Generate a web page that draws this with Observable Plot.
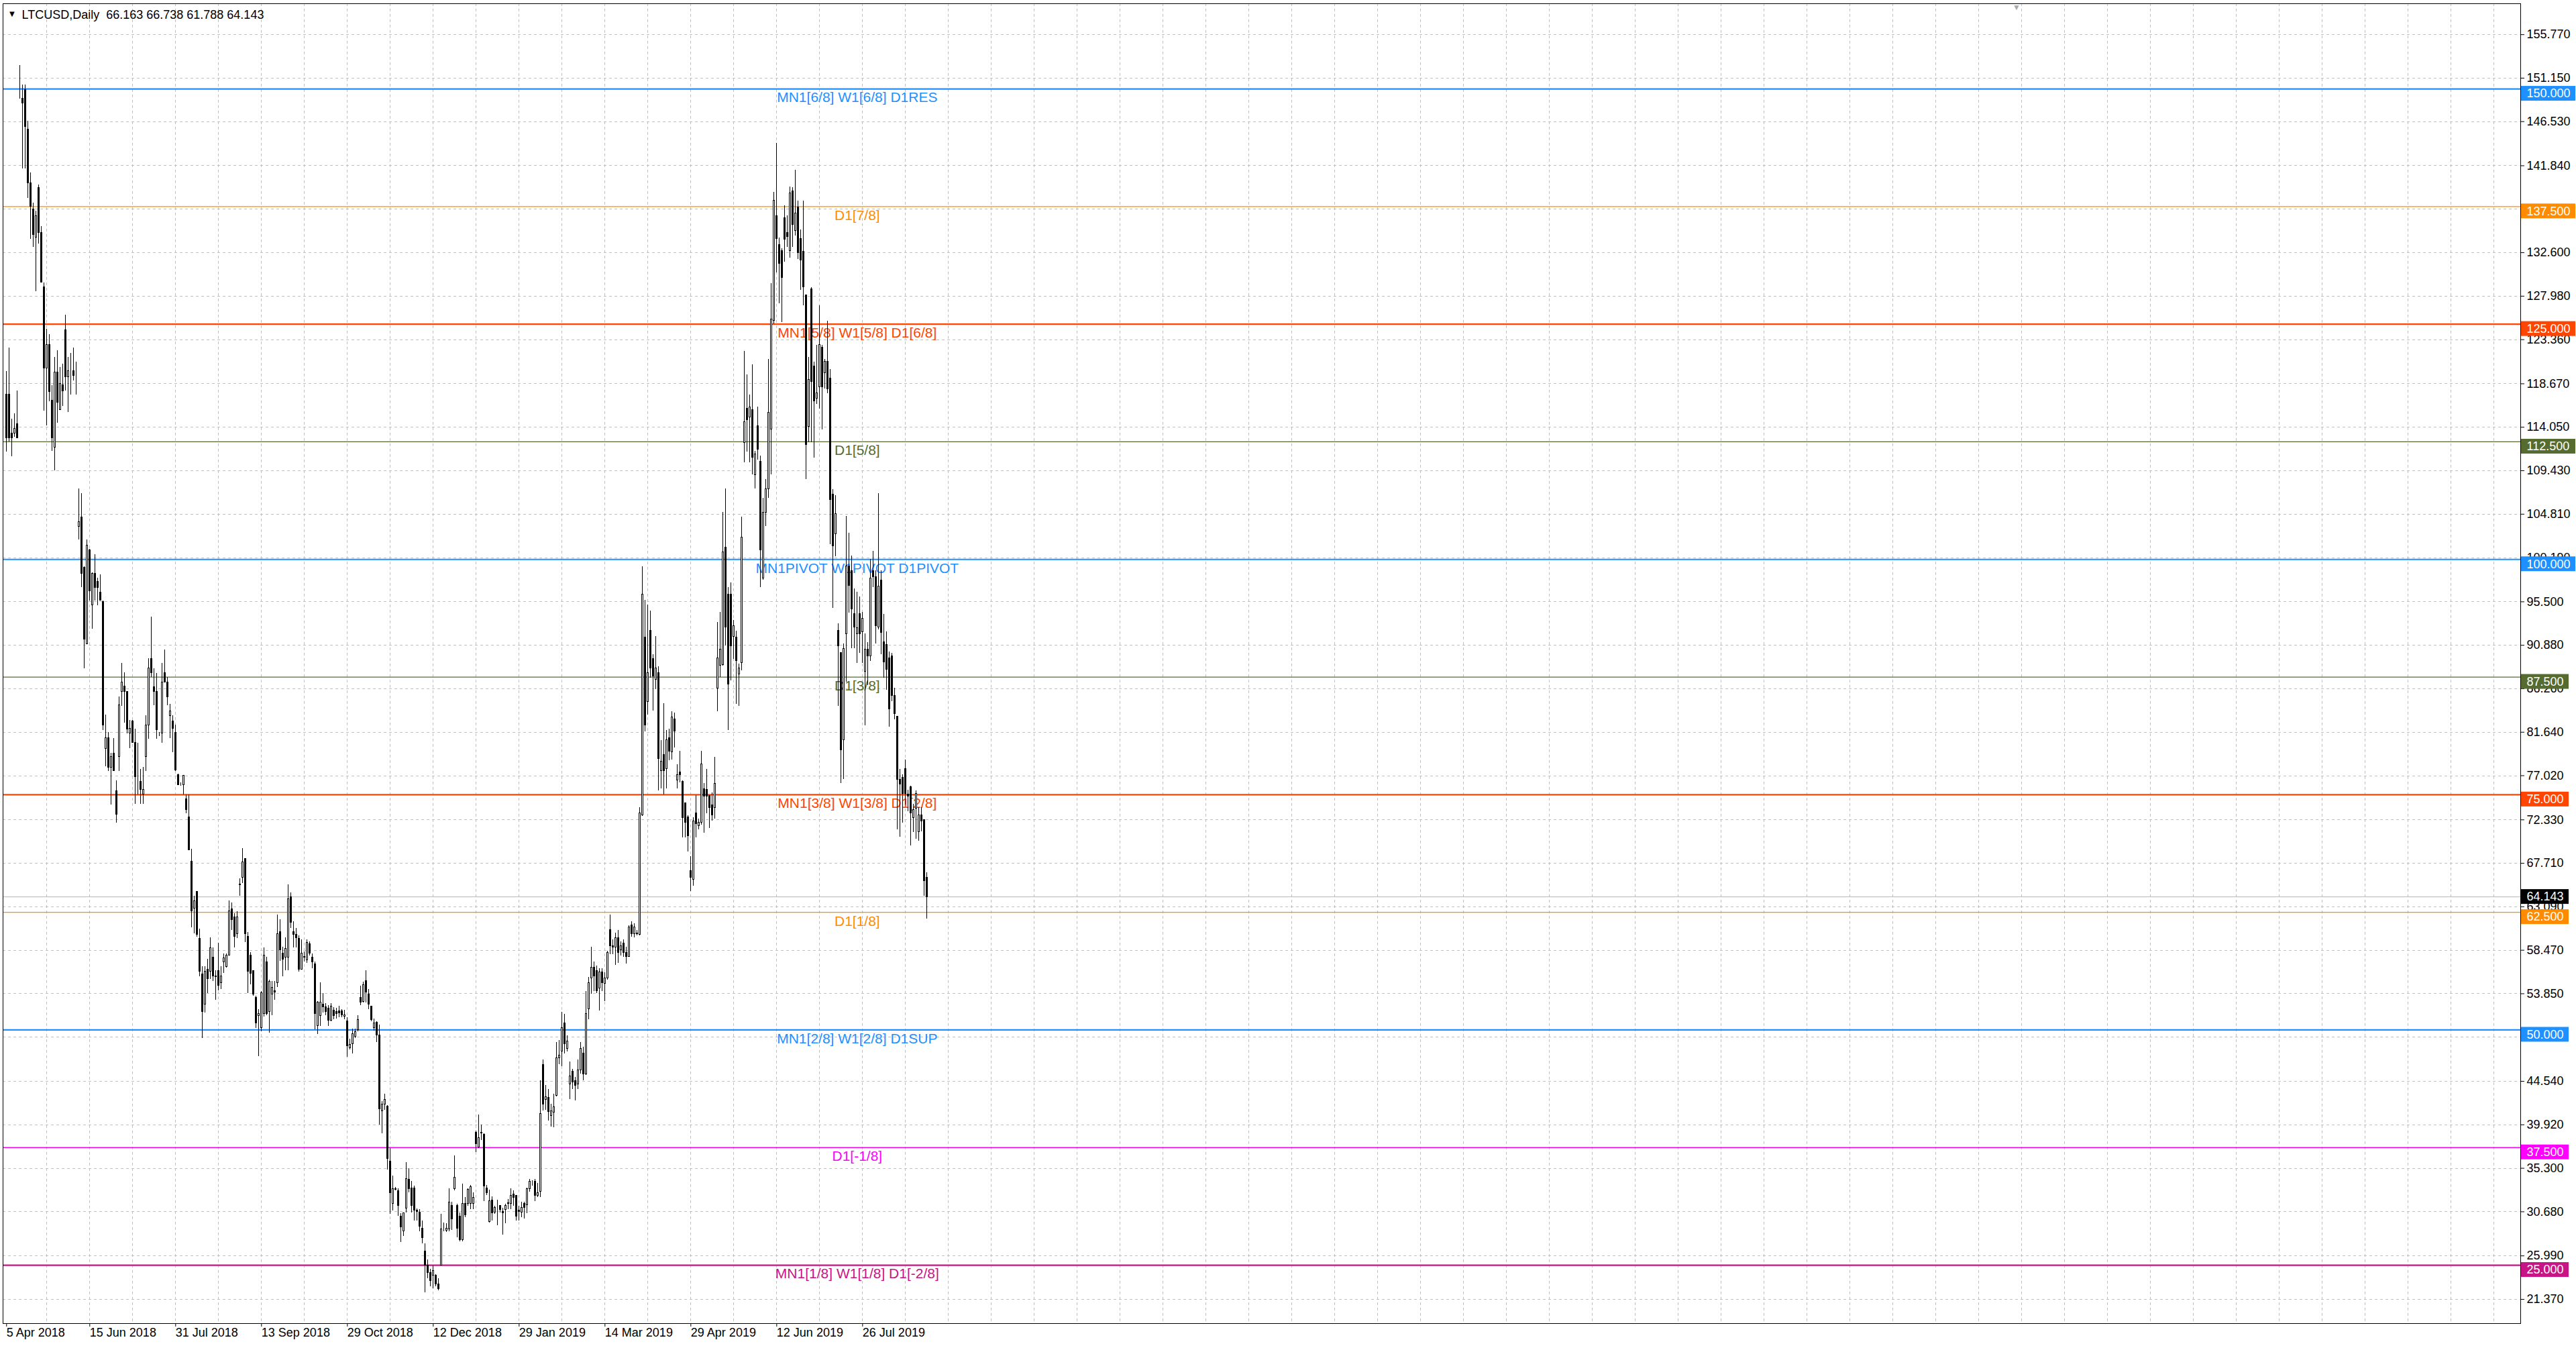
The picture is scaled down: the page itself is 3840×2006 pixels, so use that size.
<!DOCTYPE html>
<html><head><meta charset="utf-8">
<script src="https://cdn.jsdelivr.net/npm/d3@7"></script>
<script src="https://cdn.jsdelivr.net/npm/@observablehq/plot@0.6"></script>
<style>html,body{margin:0;padding:0;background:#fff;overflow:hidden}</style>
</head><body><div id="chart"></div>
<script>
const symbol = "LTCUSD";
const timeframe = "Daily";
const lastOHLC = [66.163, 66.738, 61.788, 64.143];

// daily bars [open, high, low, close], one per bar index
const bars = [
[117.5,120.0,111.4,112.9],[117.5,122.5,112.5,112.9],[113.4,114.9,110.9,112.9],[113.4,115.5,113.0,113.9],[114.4,117.9,112.9,112.9],
[151.5,152.5,148.9,151.5],[149.0,150.4,141.5,148.5],[149.9,150.4,141.5,146.0],[145.7,146.6,138.4,140.0],[140.0,141.1,134.0,137.5],
[137.2,137.9,133.2,134.5],[134.2,137.0,128.5,136.5],[139.5,139.8,133.5,134.7],[134.7,135.4,129.4,129.4],[128.9,129.4,115.8,120.3],
[120.3,124.5,114.2,122.8],[122.8,123.9,116.8,117.8],[116.9,118.5,111.5,112.9],[111.9,121.5,109.4,119.9],[119.9,122.2,114.5,116.7],
[115.9,120.4,115.9,118.7],[118.5,120.8,116.3,117.9],[124.4,125.95,117.9,119.4],[119.4,121.5,115.6,120.0],[119.6,121.9,117.5,119.6],
[120.0,122.5,119.0,119.5],[119.0,121.0,117.5,119.0],[103.5,107.5,102.1,104.0],[104.5,107.0,97.0,98.5],[99.1,99.2,88.4,91.5],
[91.0,102.1,91.0,101.5],[101.0,101.1,95.6,96.6],[95.1,98.6,92.6,98.5],[98.5,100.5,95.6,97.0],[97.6,98.0,95.1,97.0],
[96.5,98.4,95.6,95.6],[95.5,95.6,81.8,82.4],[79.9,83.5,78.0,81.0],[81.0,81.6,77.5,77.9],[77.9,79.4,73.9,79.0],
[79.4,81.0,77.5,77.5],[75.4,76.5,72.0,72.9],[79.0,85.4,77.5,84.5],[85.95,88.95,84.4,86.9],[86.5,88.0,82.6,85.95],
[85.95,85.95,81.5,81.96],[81.5,82.9,79.9,82.0],[82.8,82.9,80.5,80.5],[80.5,82.0,74.0,76.9],[76.5,80.5,75.0,76.5],
[76.4,77.7,74.0,75.5],[75.0,77.9,74.0,75.5],[79.0,83.4,77.5,82.4],[82.4,89.5,80.9,88.4],[89.4,93.9,87.5,87.9],
[86.4,88.4,84.5,85.95],[85.95,87.9,80.9,81.85],[81.4,81.6,81.2,81.4],[81.5,88.95,80.5,86.95],[87.9,90.4,86.95,86.95],
[86.95,87.5,84.5,85.4],[83.4,84.6,81.0,83.9],[82.8,83.4,79.5,82.0],[81.6,82.4,77.5,77.6],[77.1,77.2,76.0,76.0],
[76.1,76.3,75.9,76.1],[76.0,77.0,75.0,77.0],[74.5,75.0,73.0,73.4],[72.6,75.0,69.1,69.1],[67.9,69.2,60.9,62.6],
[62.9,64.2,60.2,63.7],[64.7,64.7,59.9,60.1],[59.7,60.7,55.7,56.2],[55.9,56.7,49.1,51.9],[52.7,56.7,51.8,56.2],
[56.4,57.5,53.9,55.4],[56.2,59.8,55.4,58.7],[57.7,58.7,55.2,55.7],[55.7,56.3,53.2,55.6],[56.3,59.2,54.2,54.7],
[55.0,56.7,54.3,55.7],[57.2,58.1,56.0,57.6],[56.7,58.1,56.6,57.9],[57.9,63.7,57.9,62.6],[62.8,63.5,60.6,61.7],
[62.0,62.4,58.7,59.9],[60.2,62.6,59.7,62.0],[65.5,66.1,64.2,65.4],[66.2,69.3,65.6,67.8],[68.2,68.2,59.3,60.2],
[59.9,60.4,53.9,56.2],[57.9,58.2,54.8,56.0],[56.3,56.3,53.6,53.8],[53.4,53.6,50.2,50.7],[51.5,52.2,47.2,51.7],
[50.2,54.1,49.8,53.9],[51.7,58.7,51.4,57.9],[57.2,57.7,51.5,51.7],[51.9,55.3,49.7,55.1],[53.8,55.2,51.5,54.5],
[54.1,55.2,53.2,54.0],[55.0,62.2,54.5,60.2],[60.4,61.7,57.3,58.5],[58.1,58.8,55.7,57.5],[57.7,59.8,56.3,58.6],
[57.7,65.4,56.3,63.9],[64.1,64.6,60.8,61.4],[60.4,61.5,58.7,60.1],[60.1,60.8,58.7,59.8],[59.7,60.0,56.2,56.4],
[56.4,59.6,56.4,58.1],[57.8,58.3,57.2,57.7],[57.4,59.6,57.1,59.3],[59.1,59.4,57.9,58.1],[57.7,58.1,56.5,57.2],
[57.0,57.2,50.0,51.7],[50.4,53.0,49.5,52.9],[51.5,55.0,50.4,52.9],[52.7,53.9,51.8,52.4],[52.4,52.8,51.5,51.9],
[52.3,52.6,50.4,51.0],[51.0,52.8,50.9,52.5],[52.1,52.4,51.1,51.5],[51.9,52.3,51.2,51.7],[52.0,52.5,51.3,51.8],
[52.0,52.2,51.3,51.6],[51.4,52.1,51.1,51.6],[50.9,51.3,47.1,48.3],[48.1,49.0,47.9,48.4],[48.5,50.1,47.5,49.6],
[49.3,50.1,49.1,49.8],[50.0,51.5,49.8,51.1],[53.4,54.7,52.6,52.9],[53.0,55.1,52.9,54.8],[55.2,56.3,52.9,54.0],
[53.8,54.3,52.2,52.7],[52.5,52.5,50.9,51.1],[50.2,51.2,49.9,50.7],[50.8,50.9,48.7,49.4],[49.4,50.5,39.9,41.6],
[41.4,42.4,39.0,42.1],[42.1,43.2,41.5,42.6],[41.9,42.0,35.1,36.3],[36.0,37.4,30.4,32.7],[31.5,34.5,30.8,33.1],
[33.1,33.3,32.9,33.0],[32.9,33.1,30.2,31.3],[30.2,30.5,27.4,29.0],[28.6,30.6,28.1,30.5],[31.0,35.9,30.6,34.2],
[34.1,35.3,32.7,33.1],[33.2,33.9,30.6,31.3],[33.2,33.4,29.7,30.8],[30.8,31.0,29.7,30.7],[30.6,30.9,28.6,29.1],
[28.9,29.7,27.3,27.9],[26.5,27.3,22.1,25.0],[25.0,25.6,23.6,24.2],[24.2,24.6,22.7,23.3],[23.9,24.9,22.5,24.4],
[23.9,24.0,22.7,23.0],[23.0,23.6,22.3,22.5],[25.0,30.4,24.9,28.8],[28.7,29.5,28.6,28.7],[28.7,29.4,28.5,28.9],
[28.8,33.1,28.6,31.7],[31.3,31.7,28.7,29.9],[33.1,36.6,32.9,34.3],[31.3,31.5,27.9,28.9],[30.2,30.6,27.5,27.7],
[27.7,33.6,27.5,31.5],[31.5,32.2,30.1,30.3],[31.5,33.1,31.3,33.0],[31.5,33.5,30.9,33.3],[31.5,32.7,30.9,32.2],
[39.1,39.3,37.0,37.9],[37.5,41.0,37.4,38.5],[39.1,39.9,38.3,39.0],[38.9,39.0,31.8,33.4],[33.2,33.5,32.4,32.7],
[29.6,33.0,29.5,31.8],[31.9,32.3,29.7,30.5],[30.6,31.3,30.4,31.1],[30.9,31.9,29.2,30.9],[31.3,31.3,30.6,30.9],
[30.7,31.1,28.2,30.5],[30.9,31.5,29.4,31.3],[31.5,32.0,30.9,31.6],[31.5,33.1,30.9,32.4],[32.5,32.9,31.3,32.2],
[32.4,32.4,29.7,30.2],[30.8,31.3,29.7,30.7],[30.6,31.7,30.1,31.1],[31.5,31.7,29.9,31.1],[31.4,33.2,30.5,33.1],
[33.1,34.1,32.8,33.9],[33.8,34.0,33.4,33.8],[33.9,34.1,31.8,32.4],[32.4,33.7,32.2,32.7],[32.8,44.6,32.2,41.1],
[46.3,46.8,41.4,42.1],[42.6,44.1,41.5,42.9],[42.8,43.7,40.3,41.3],[40.9,42.1,39.7,41.4],[41.2,43.2,39.6,41.8],
[43.0,48.7,42.9,47.0],[47.0,48.9,46.3,47.3],[47.7,51.9,46.1,50.2],[50.7,51.7,47.5,48.5],[48.0,49.4,47.7,48.8],
[44.2,46.6,42.6,45.1],[45.6,45.8,43.7,44.4],[44.6,45.0,42.5,44.1],[44.2,46.8,43.7,45.7],[45.7,48.7,45.3,48.0],
[47.5,48.2,44.6,45.3],[45.3,54.1,45.2,51.7],[52.2,55.6,51.1,55.0],[55.5,58.8,53.8,56.6],[56.6,57.2,54.1,55.7],
[56.3,56.8,53.9,54.1],[54.4,56.5,52.0,56.1],[56.1,56.5,54.1,55.0],[54.9,56.1,53.0,55.5],[55.5,58.4,55.3,58.2],
[60.6,62.2,58.0,58.9],[58.9,59.6,58.0,58.8],[58.8,60.3,56.9,59.8],[59.8,60.6,57.1,58.2],[58.5,59.4,57.9,58.9],
[59.2,59.6,57.7,58.2],[58.2,58.8,57.0,57.8],[57.8,61.1,57.7,60.9],[61.1,61.5,59.9,60.2],[60.2,61.3,59.8,60.9],
[60.3,60.6,60.0,60.2],[60.1,73.6,60.0,73.0],[72.8,99.2,72.7,96.3],[91.7,95.7,81.7,82.4],[84.9,95.2,83.5,87.9],
[92.4,94.5,87.4,88.4],[89.4,89.9,83.9,87.6],[87.2,91.8,86.2,88.4],[87.9,88.6,75.4,78.8],[77.5,80.8,75.6,78.5],
[79.2,84.7,75.0,77.5],[77.7,81.8,75.6,80.8],[81.0,82.0,78.6,79.6],[79.5,83.8,78.7,83.2],[83.0,83.7,80.0,81.7],
[76.5,78.2,75.6,77.1],[77.4,79.6,76.3,77.1],[76.4,76.5,70.4,72.5],[74.1,74.1,70.4,72.0],[72.6,72.8,68.9,70.6],
[66.9,68.4,64.7,66.2],[66.0,72.6,65.3,72.2],[73.0,74.9,70.4,71.9],[71.7,72.4,71.3,72.0],[72.0,79.6,71.8,78.2],
[75.6,76.2,70.9,74.8],[75.5,77.7,73.0,74.8],[74.9,74.9,71.4,73.6],[73.9,75.2,72.2,72.8],[73.6,79.0,72.4,76.2],
[86.3,93.3,83.8,89.5],[88.7,94.4,87.5,90.4],[88.8,105.0,88.7,100.8],[101.3,107.5,90.8,92.8],[96.3,97.0,81.8,86.7],
[96.3,97.5,87.1,90.8],[91.8,93.5,89.4,92.9],[91.7,92.4,84.6,89.2],[87.8,88.9,84.4,88.4],[89.0,104.5,88.2,102.3],
[112.4,122.1,110.3,114.6],[116.0,119.6,111.4,114.8],[115.1,117.5,110.3,116.2],[115.9,120.7,109.0,110.8],[109.0,111.5,107.5,111.2],
[114.2,116.2,110.6,111.7],[110.4,111.0,97.0,100.95],[98.0,106.5,97.8,105.0],[105.0,108.5,103.5,107.5],[107.5,121.3,106.5,115.6],
[113.8,129.3,109.0,125.5],[125.4,139.0,125.0,138.1],[136.5,144.2,130.5,134.1],[133.4,134.2,127.2,131.4],[132.8,133.0,125.2,129.9],
[136.3,137.6,131.6,134.0],[134.7,136.5,133.2,134.3],[132.8,139.6,132.0,138.9],[139.1,139.5,133.2,135.6],[134.9,141.4,134.4,136.8],
[137.4,138.1,131.9,132.6],[134.1,135.0,128.6,131.8],[132.7,138.1,127.0,128.9],[128.1,128.1,108.5,112.2],[114.1,121.5,112.4,119.1],
[128.7,128.9,112.4,118.9],[120.5,121.0,110.8,116.8],[117.1,122.8,116.5,117.7],[118.3,127.0,116.0,122.8],[122.5,122.8,113.8,118.3],
[119.8,121.3,118.1,121.0],[121.0,125.3,117.6,118.1],[119.2,120.2,101.6,106.3],[106.9,107.4,94.8,101.4],[102.7,106.8,100.3,104.8],
[92.4,93.2,84.4,90.8],[90.1,90.1,76.2,79.7],[80.8,91.0,76.6,90.5],[92.1,104.6,87.0,99.25],[99.25,102.8,94.3,97.2],
[98.8,100.4,90.5,94.7],[94.2,96.9,90.5,92.8],[92.1,96.5,89.0,92.7],[94.2,96.0,90.0,92.1],[92.3,94.4,89.0,93.7],
[88.1,92.1,82.3,90.4],[90.4,91.2,86.6,89.7],[89.7,100.0,89.2,98.0],[98.8,100.9,97.0,98.1],[98.1,98.8,91.0,92.9],
[92.8,107.0,92.5,97.1],[97.8,98.8,89.9,92.2],[91.2,94.2,87.4,89.1],[90.9,92.3,86.1,88.3],[89.5,90.2,82.2,84.1],
[89.7,90.0,84.9,85.5],[85.5,86.3,83.0,83.6],[83.3,83.3,71.3,76.6],[76.6,77.7,70.5,76.1],[76.8,77.1,72.0,75.1],
[77.7,78.7,73.9,75.1],[75.0,75.5,73.2,74.8],[75.8,75.9,69.6,73.0],[72.5,74.0,71.0,73.4],[73.5,75.4,70.3,75.1],
[71.0,73.6,70.1,72.8],[72.8,73.6,71.1,72.2],[72.3,72.3,64.2,65.8],[66.163,66.738,61.788,64.143]
];

const dateLabels = ["5 Apr 2018","15 Jun 2018","31 Jul 2018","13 Sep 2018","29 Oct 2018","12 Dec 2018","29 Jan 2019","14 Mar 2019","29 Apr 2019","12 Jun 2019","26 Jul 2019"];
const dateBars = [0,31,63,95,127,159,191,223,255,287,319];

const yTicks = [21.37,25.99,30.68,35.30,39.92,44.54,49.23,53.85,58.47,63.09,67.71,72.33,77.02,81.64,86.26,90.88,95.50,100.19,104.81,109.43,114.05,118.67,123.36,127.98,132.60,137.22,141.84,146.53,151.15,155.77];

const levelPrices = [150,137.5,125,112.5,100,87.5,75,62.5,50,37.5,25];
const levelLabels = ["MN1[6/8] W1[6/8] D1RES","D1[7/8]","MN1[5/8] W1[5/8] D1[6/8]","D1[5/8]","MN1PIVOT W1PIVOT D1PIVOT","D1[3/8]","MN1[3/8] W1[3/8] D1[2/8]","D1[1/8]","MN1[2/8] W1[2/8] D1SUP","D1[-1/8]","MN1[1/8] W1[1/8] D1[-2/8]"];
const levelColors = ["#1E90FF","#FF8C00","#FF4500","#556B2F","#1E90FF","#556B2F","#FF4500","#FF8C00","#1E90FF","#FF00FF","#C71585"];
const levelMajor = [true,false,true,false,true,false,true,false,true,false,true];
const currentPrice = 64.143;

// chart geometry (bar index / price)
const xMin = -1.325, xMax = 936.9, yMin = 18.80, yMax = 159.06;
const labelBar = 317;
const shiftBar = 749;
const gridBars = d3.range(15, 937, 16);

const candles = bars.map(([o,h,l,c], i) => ({i, o, h, l, c}));
const levels = levelPrices.map((p, k) => ({p, label: levelLabels[k], color: levelColors[k], major: levelMajor[k], tag: p.toFixed(3)}));
const currentTag = [{p: currentPrice, color: "#000000", tag: currentPrice.toFixed(3)}];
const title = `${symbol},${timeframe}  ${lastOHLC.map(v => v.toFixed(3)).join(" ")}`;

const chart = Plot.plot({
  width: 3840, height: 2006,
  marginTop: 5, marginRight: 83, marginBottom: 34, marginLeft: 4,
  style: {fontFamily: "'Liberation Sans', Arial, sans-serif", fontSize: "18px", background: "#fff", color: "#000"},
  x: {domain: [xMin, xMax], ticks: dateBars, tickFormat: () => "", tickSize: 5, label: null},
  y: {domain: [yMin, yMax], axis: "right", ticks: yTicks, tickFormat: d => d.toFixed(3), tickSize: 5, tickPadding: 4, label: null},
  color: {type: "identity"},
  marks: [
    Plot.ruleX(gridBars, {stroke: "#c0c0c0", strokeDasharray: "4,4", shapeRendering: "crispEdges"}),
    Plot.ruleY(yTicks, {stroke: "#c0c0c0", strokeDasharray: "4,4", shapeRendering: "crispEdges"}),
    Plot.ruleY([currentPrice], {stroke: "#b8b8b8", strokeWidth: 1}),
    Plot.ruleY(levels.filter(d => !d.major), {y: "p", stroke: "color", strokeWidth: 1.3}),
    Plot.ruleY(levels.filter(d => d.major), {y: "p", stroke: "color", strokeWidth: 2.2}),
    Plot.text(levels, {x: () => labelBar, y: "p", text: "label", fill: "color", fontSize: 21, lineAnchor: "top", dy: 5}),
    Plot.ruleX(candles, {x: "i", y1: "l", y2: "h", stroke: "black", strokeWidth: 1, shapeRendering: "crispEdges"}),
    Plot.rect(candles, {x1: d => d.i - 0.25, x2: d => d.i + 0.25, y1: d => Math.min(d.o, d.c), y2: d => Math.max(d.o, d.c),
      fill: d => d.c >= d.o ? "#ffffff" : "#000000", stroke: "black", strokeWidth: 1, shapeRendering: "crispEdges"}),
    // level price tags (sit just below their line, like MT4)
    Plot.rect(levels.filter(d => d.tag.length > 6), {x1: () => xMax, x2: () => xMax, y1: "p", y2: "p", fill: "color",
      insetLeft: 1, insetRight: -82, insetTop: -4, insetBottom: -18}),
    Plot.rect(levels.filter(d => d.tag.length <= 6), {x1: () => xMax, x2: () => xMax, y1: "p", y2: "p", fill: "color",
      insetLeft: 1, insetRight: -72, insetTop: -4, insetBottom: -18}),
    Plot.text(levels, {x: () => xMax, y: "p", text: "tag", fill: "#ffffff", dx: 9, dy: 7, textAnchor: "start", fontSize: 18}),
    // current price tag (centred on its line)
    Plot.rect(currentTag, {x1: () => xMax, x2: () => xMax, y1: "p", y2: "p", fill: "color",
      insetLeft: 1, insetRight: -72, insetTop: -11, insetBottom: -11}),
    Plot.text(currentTag, {x: () => xMax, y: "p", text: "tag", fill: "#ffffff", dx: 9, textAnchor: "start", fontSize: 18}),
    Plot.text(dateLabels, {x: (d, k) => dateBars[k], frameAnchor: "bottom", dy: 19, textAnchor: "start", fontSize: 18, fill: "#000000"}),
    Plot.text([title], {frameAnchor: "top-left", dx: 28, dy: 10, textAnchor: "start", fontSize: 18, fill: "#000000"}),
    Plot.text(["\u25BC"], {frameAnchor: "top-left", dx: 7, dy: 10, textAnchor: "start", fontSize: 13, fill: "#000000"}),
    Plot.text(["\u25BC"], {x: () => shiftBar, frameAnchor: "top", dy: 1, fontSize: 12, fill: "#a8a8a8"}),
    Plot.frame({stroke: "black"})
  ]
});
document.getElementById("chart").appendChild(chart);
</script>
</body></html>
